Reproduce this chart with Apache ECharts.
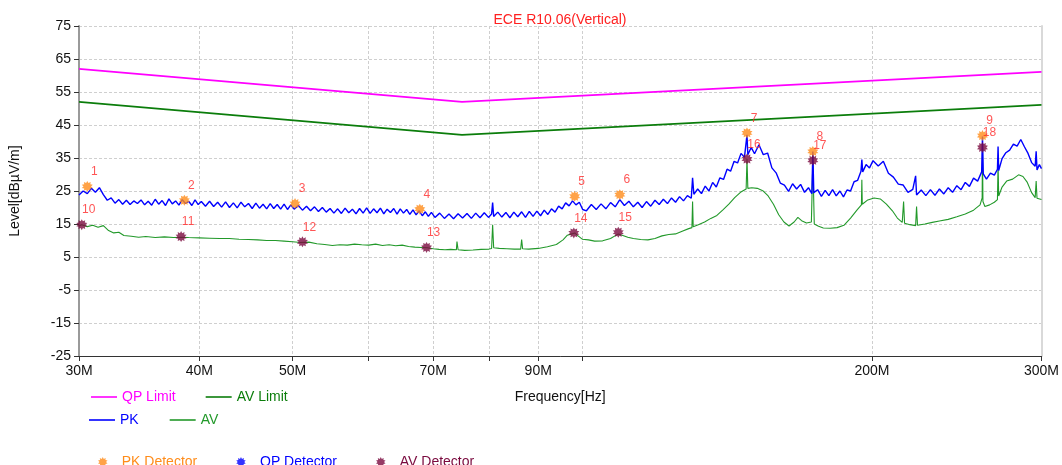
<!DOCTYPE html>
<html><head><meta charset="utf-8">
<script src="https://cdn.jsdelivr.net/npm/echarts@6/dist/echarts.min.js"></script>
<style>html,body{margin:0;padding:0;background:#fff}#c{width:1062px;height:465px}</style>
</head><body><div id="c"></div>
<script>
const xTickValues = [30,40,50,60,70,80,90,100,200,300];
const xLabelValues = [30,40,50,70,90,200,300];
const yTickValues = [-25,-15,-5,5,15,25,35,45,55,65,75];

const qpLimit = [[30,62],[75,52],[300,61.1]];
const avLimit = [[30,52],[75,42],[300,51.1]];

const pkTrace = [
[30.0,23.8],[30.3,25.0],[30.6,24.2],[30.9,25.8],[31.2,24.6],[31.5,26.0],[31.8,23.9],[32.1,22.2],[32.4,22.9],[32.7,21.3],
[33.0,22.4],[33.3,21.0],[33.6,22.2],[33.9,20.9],[34.2,22.0],[34.5,21.2],[34.8,22.3],[35.1,20.8],[35.4,21.9],[35.7,20.7],
[36.0,22.5],[36.3,21.0],[36.6,22.1],[36.9,20.6],[37.2,22.6],[37.5,21.1],[37.8,22.0],[38.1,20.7],[38.4,22.4],[38.7,21.2],
[39.0,21.9],[39.3,20.6],[39.6,22.3],[39.9,20.9],
[40.2,21.8],[40.6,20.4],[41.0,21.9],[41.4,20.3],[41.8,21.6],[42.2,20.1],[42.6,21.7],[43.0,20.0],[43.4,21.4],[43.8,19.9],
[44.2,21.6],[44.6,20.2],[45.0,21.2],[45.4,19.7],[45.8,21.3],[46.2,19.8],[46.6,21.0],[47.0,19.6],[47.4,21.2],[47.8,19.7],
[48.2,20.9],[48.6,19.5],[49.0,21.0],[49.4,19.4],[49.8,20.8],
[50.2,19.5],[50.7,20.6],[51.2,19.2],[51.7,20.4],[52.2,19.0],[52.7,20.2],[53.2,18.8],[53.7,20.0],[54.2,18.6],[54.7,19.7],
[55.2,18.3],[55.7,19.6],[56.2,18.2],[56.7,19.8],[57.2,18.4],[57.7,19.5],[58.2,18.1],[58.7,19.7],[59.2,18.3],[59.7,19.9],
[60.2,18.2],[60.7,19.6],[61.2,18.4],[61.7,19.8],[62.2,18.1],[62.7,19.5],[63.2,18.5],[63.7,19.7],[64.2,18.0],[64.7,19.6],
[65.2,18.3],[65.7,19.4],[66.2,17.9],[66.7,19.3],[67.2,17.8],[67.7,19.0],[68.2,17.5],[68.7,18.7],[69.2,17.3],[69.7,18.5],
[70.3,17.0],[71.1,18.3],[71.9,16.7],[72.7,18.0],[73.5,16.6],[74.3,18.1],[75.1,16.8],[75.9,18.2],[76.7,16.7],[77.5,18.3],
[78.3,16.9],[79.1,18.4],[79.9,17.0],[80.5,18.0],[80.7,21.5],[80.9,17.3],[81.7,18.6],[82.5,17.1],[83.3,18.5],[84.1,16.9],
[84.9,18.6],[85.7,17.2],[86.5,18.7],[87.3,17.0],[88.1,18.8],[88.9,17.3],[89.7,18.9],[90.5,17.5],[91.3,19.2],[92.1,17.9],
[92.9,19.6],[93.7,18.6],[94.5,20.4],[95.3,19.6],[96.1,21.4],[96.9,20.5],[97.7,22.0],[98.5,20.8],[99.3,21.6],[100.1,19.4],
[101.0,19.0],[102.2,20.9],[103.4,19.4],[104.6,21.1],[105.8,19.6],[107.0,21.5],[108.2,20.2],[109.4,22.4],[110.6,20.6],[111.8,21.9],
[113.0,20.2],[114.2,21.6],[115.4,20.0],[116.6,21.8],[117.8,20.4],[119.0,22.2],[120.2,20.9],[121.4,22.5],[122.6,21.2],[123.8,22.9],
[125.0,21.6],[126.2,23.3],[127.4,22.0],[128.6,23.6],[129.8,22.8],[130.2,29.0],[130.6,24.0],[131.8,25.6],[133.0,24.2],[134.2,26.5],
[135.4,25.0],[136.6,27.6],[137.8,26.2],[139.0,29.0],[140.2,28.5],[141.4,31.6],[142.6,31.0],[143.8,34.0],[145.0,33.5],[146.2,36.4],
[147.4,35.2],[148.3,42.0],[148.6,36.0],[149.8,38.2],
[151.0,36.3],[152.6,39.0],[154.2,36.0],[155.8,36.5],[157.4,32.0],[159.0,30.5],[160.6,27.4],[162.2,26.8],[163.8,24.9],[165.4,27.2],
[167.0,25.6],[168.6,27.0],[170.2,24.6],[171.8,26.0],[173.2,24.2],[173.6,37.0],[174.0,24.5],[175.6,25.4],[177.2,23.4],[178.8,25.2],
[180.4,23.6],[182.0,25.4],[183.6,23.5],[185.2,25.0],[186.8,23.2],[188.4,25.3],[190.0,25.0],[191.6,27.8],[193.2,28.2],[194.8,31.0],
[195.2,34.5],[195.6,30.8],[197.2,33.0],[198.8,32.0],
[200.5,34.2],[203.0,32.6],[205.5,34.0],[208.0,30.4],[210.5,29.2],[213.0,27.1],[215.5,26.8],[218.0,24.6],[220.5,25.5],[222.0,29.6],
[222.5,23.8],[225.0,25.3],[227.5,23.6],[230.0,25.4],[232.5,23.7],[235.0,25.6],[237.5,24.1],[240.0,26.0],[242.5,24.6],[245.0,26.6],
[247.5,25.4],[250.0,27.6],[252.5,26.4],[255.0,28.9],[257.5,28.0],[260.0,30.8],[260.5,41.5],[261.0,30.2],[263.0,28.6],[265.5,30.4],
[268.0,29.8],[270.0,31.6],[270.4,38.5],[270.8,31.2],[273.0,34.8],[275.5,36.6],[278.0,37.4],[280.5,39.2],[283.0,38.6],[285.5,40.6],
[288.0,38.4],[290.5,36.4],[293.0,33.6],[295.5,32.5],[296.2,37.0],[296.8,31.4],[298.5,33.0],[300.0,31.8]
];

const avTrace = [
[30.0,14.4],[30.2,14.8],[30.6,14.2],[31.0,14.6],[31.4,14.0],[31.8,14.5],[32.2,13.0],[32.6,12.3],[33.0,12.5],[33.4,11.5],
[34.0,11.3],[34.6,11.0],[35.2,11.2],[36.0,10.9],[36.8,11.1],[37.6,10.9],[38.3,11.0],[39.0,10.9],[40.0,10.8],[41.0,10.7],
[42.0,10.6],[43.0,10.6],[44.0,10.4],[45.0,10.3],[46.0,10.2],[47.0,10.0],[48.0,10.0],[49.0,9.8],[50.0,9.6],[51.0,9.4],
[52.0,9.5],[53.0,9.0],[54.0,8.8],[55.0,8.5],[56.0,8.7],[57.0,8.6],[58.0,8.9],[59.0,8.7],[60.0,8.6],[61.0,8.9],
[62.0,8.5],[63.0,8.7],[64.0,8.4],[65.0,8.6],[66.0,8.2],[67.0,8.0],[68.0,7.9],[69.0,7.8],[70.0,7.5],[71.0,7.3],
[72.0,7.2],[73.0,7.3],[74.0,7.2],[74.1,9.7],[74.3,7.2],[75.5,7.0],[77.0,7.1],[78.5,7.3],[80.0,7.4],[80.5,7.6],
[80.7,14.8],[80.9,7.8],[82.0,7.6],[83.5,7.5],[85.0,7.4],[86.3,7.4],[86.5,10.3],[86.7,7.5],[88.0,7.4],[90.0,7.6],
[92.0,8.1],[94.0,8.8],[95.5,10.2],[96.5,11.6],[97.5,12.0],[98.2,12.3],[99.0,11.4],[100.0,10.4],[101.5,10.2],[103.0,9.8],
[105.0,9.9],[107.0,10.6],[109.0,12.0],[110.0,11.6],[111.5,11.0],[113.0,10.6],[115.0,10.3],[117.0,10.2],[119.0,10.6],[121.0,11.4],
[123.0,11.8],[125.0,12.0],[127.0,12.8],[129.0,13.6],[130.0,13.9],[130.2,21.8],[130.4,14.2],[132.0,14.8],[134.0,15.6],[136.0,16.7],
[138.0,17.6],[140.0,19.3],[142.0,21.0],[144.0,23.0],[146.0,24.6],[148.0,25.6],[148.3,34.7],[148.6,25.8],[150.0,26.0],[152.0,25.8],
[154.0,25.1],[156.0,23.5],[158.0,21.0],[160.0,17.8],[162.0,15.6],[164.0,14.4],[166.0,15.6],[167.5,17.0],[169.0,16.0],[171.0,15.3],
[173.0,15.6],[173.6,34.3],[174.2,15.0],[176.0,14.3],[178.0,13.8],[181.0,13.7],[184.0,13.9],[187.0,14.6],[190.0,16.8],[193.0,19.3],
[195.0,20.8],[195.2,28.4],[195.4,21.0],[198.0,22.3],[201.0,22.9],[204.0,22.6],[207.0,21.0],[210.0,19.0],[212.5,16.8],[215.0,15.5],
[215.7,21.8],[216.2,15.2],[219.0,14.8],[222.0,14.5],[222.5,20.3],[223.0,14.6],[227.0,15.0],[231.0,15.5],[235.0,15.9],[240.0,16.4],
[245.0,17.2],[250.0,18.0],[255.0,19.2],[259.0,20.8],[260.3,22.9],[260.5,38.2],[260.8,21.8],[262.0,20.3],[265.0,20.8],[268.0,21.6],
[270.0,22.4],[270.4,33.5],[270.8,23.5],[273.0,26.2],[276.0,28.0],[280.0,28.6],[284.0,29.9],[287.0,29.4],[290.0,27.6],[293.0,24.5],
[295.5,23.0],[296.2,28.0],[296.8,22.8],[300.0,22.4]
];

const pkDetector = [[30.6,26.4],[38.6,22.2],[50.3,21.2],[67.8,19.5],[98.2,23.4],[109.4,23.9],[148.3,42.6],[173.6,37.0],[260.5,41.8]];
const pkDetectorLabels = ['1','2','3','4','5','6','7','8','9'];
const avDetector = [[30.2,14.8],[38.3,11.2],[51.2,9.6],[68.9,7.9],[98.0,12.3],[109.0,12.5],[148.3,34.7],[173.6,34.3],[260.5,38.2]];
const avDetectorLabels = ['10','11','12','13','14','15','16','17','18'];
const qpDetector = [];

function starPath(n, r1, r2) {
  let d = '';
  for (let i = 0; i < 2 * n; i++) {
    const a = i * Math.PI / n - Math.PI / 2;
    const r = i % 2 ? r2 : r1;
    d += (i ? 'L' : 'M') + (r * Math.cos(a)).toFixed(2) + ',' + (r * Math.sin(a)).toFixed(2);
  }
  return 'path://' + d + 'Z';
}
const STAR = starPath(10, 10, 6.5);
const LINE_ICON = 'path://M0,0L26,0L26,1.6L0,1.6Z';
const FONT = '"Liberation Sans", Arial, sans-serif';

const C = {
  qp: '#ff00ff', avLim: '#0b7d0b', pk: '#0000ff', av: '#22992a',
  pkDet: '#ff8c1a', qpDet: '#0000ff', avDet: '#7a0a3e', lbl: '#ff2a2a'
};

function detLabel(labels) {
  return {
    show: true, position: 'top', distance: 5, offset: [7, 2],
    color: C.lbl, fontSize: 12, fontFamily: FONT, textBorderWidth: 0,
    formatter: p => labels[p.dataIndex]
  };
}

const chart = echarts.init(document.getElementById('c'), null, {renderer: 'canvas'});
chart.setOption({
  animation: false,
  backgroundColor: '#fff',
  title: {
    text: 'ECE R10.06(Vertical)', left: 555, top: 8, textAlign: 'center',
    textStyle: {color: '#ff2020', fontSize: 14, fontWeight: 'normal', fontFamily: FONT}
  },
  grid: {left: 79, right: 20, top: 26, bottom: 109, containLabel: false},
  xAxis: {
    type: 'log', logBase: 10, min: 30, max: 300,
    name: 'Frequency[Hz]', nameLocation: 'middle', nameGap: 34,
    nameTextStyle: {color: '#111', fontSize: 14, fontFamily: FONT},
    axisLine: {onZero: false, lineStyle: {color: '#333', width: 1}},
    axisTick: {show: true, length: 5, customValues: xTickValues, lineStyle: {color: '#333'}},
    axisLabel: {customValues: xLabelValues, formatter: v => v + 'M', color: '#111', fontSize: 14, fontFamily: FONT, margin: 8},
    splitLine: {show: true, lineStyle: {color: '#cfcfcf', type: [3, 2], width: 1}},
    minorTick: {show: false}
  },
  yAxis: [
    {
      type: 'value', min: -25, max: 75,
      name: 'Level[dBµV/m]', nameLocation: 'middle', nameGap: 57,
      nameTextStyle: {color: '#111', fontSize: 14, fontFamily: FONT},
      axisLine: {show: true, onZero: false, lineStyle: {color: '#9a9a9a', width: 2}},
      axisTick: {show: true, length: 5, customValues: yTickValues, lineStyle: {color: '#333'}},
      axisLabel: {customValues: yTickValues, color: '#111', fontSize: 14, fontFamily: FONT, margin: 8},
      splitLine: {show: true, lineStyle: {color: '#cfcfcf', type: [3, 2], width: 1}}
    },
    {
      type: 'value', min: -25, max: 75, position: 'right',
      axisLine: {show: true, onZero: false, lineStyle: {color: '#d9d9d9', width: 2}},
      axisTick: {show: false}, axisLabel: {show: false}, splitLine: {show: false}
    }
  ],
  legend: [
    {
      left: 86, top: 385, itemWidth: 26, itemHeight: 2, itemGap: 30,
      textStyle: {fontSize: 14, fontFamily: FONT},
      data: [
        {name: 'QP Limit', icon: LINE_ICON, textStyle: {color: C.qp}},
        {name: 'AV Limit', icon: LINE_ICON, textStyle: {color: C.avLim}}
      ]
    },
    {
      left: 84, top: 408, itemWidth: 26, itemHeight: 2, itemGap: 31,
      textStyle: {fontSize: 14, fontFamily: FONT},
      data: [
        {name: 'PK', icon: LINE_ICON, textStyle: {color: C.pk}},
        {name: 'AV', icon: LINE_ICON, textStyle: {color: C.av}}
      ]
    },
    {
      left: 93, top: 450, itemWidth: 28, itemHeight: 10, itemGap: 39,
      textStyle: {fontSize: 14, fontFamily: FONT},
      data: [
        {name: 'PK Detector', icon: STAR, textStyle: {color: C.pkDet}},
        {name: 'QP Detector', icon: STAR, textStyle: {color: C.qpDet}},
        {name: 'AV Detector', icon: STAR, textStyle: {color: C.avDet}}
      ]
    }
  ],
  series: [
    {name: 'QP Limit', type: 'line', data: qpLimit, symbol: 'none', color: C.qp, lineStyle: {width: 1.6, color: C.qp}, z: 3},
    {name: 'AV Limit', type: 'line', data: avLimit, symbol: 'none', color: C.avLim, lineStyle: {width: 1.6, color: C.avLim}, z: 3},
    {name: 'AV', type: 'line', data: avTrace, symbol: 'none', color: C.av, lineStyle: {width: 1.1, color: C.av}, z: 4},
    {name: 'PK', type: 'line', data: pkTrace, symbol: 'none', color: C.pk, lineStyle: {width: 1.4, color: C.pk}, z: 5},
    {name: 'PK Detector', type: 'scatter', data: pkDetector, symbol: STAR, symbolSize: 11, color: C.pkDet,
     itemStyle: {color: C.pkDet}, label: detLabel(pkDetectorLabels), z: 8},
    {name: 'QP Detector', type: 'scatter', data: qpDetector, symbol: STAR, symbolSize: 11, color: C.qpDet,
     itemStyle: {color: C.qpDet}, z: 8},
    {name: 'AV Detector', type: 'scatter', data: avDetector, symbol: STAR, symbolSize: 11, color: C.avDet,
     itemStyle: {color: C.avDet}, label: detLabel(avDetectorLabels), z: 9}
  ]
});
</script>
</body></html>
